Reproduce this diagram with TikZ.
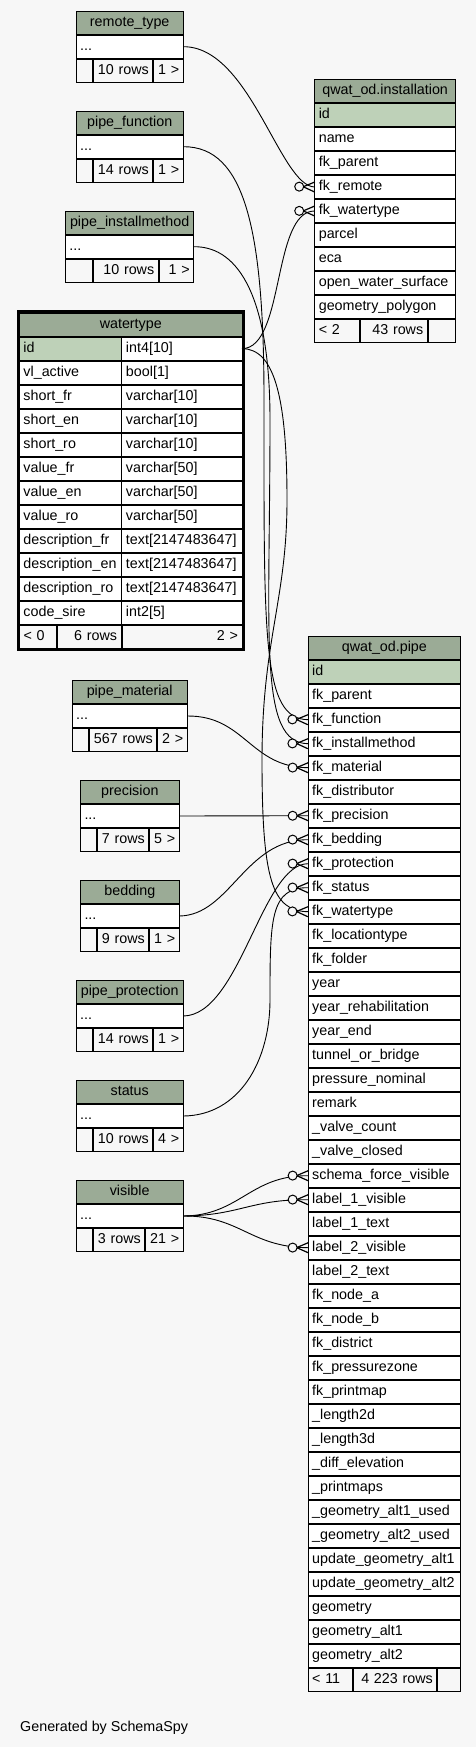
\documentclass[tikz,border=0pt]{standalone}
\usepackage{fontspec}
\setmainfont{Liberation Sans}
\usetikzlibrary{matrix,positioning,decorations.markings}
\definecolor{headgreen}{HTML}{9BAB96}
\definecolor{keygreen}{HTML}{BED1B8}
\definecolor{paper}{HTML}{F7F7F7}
\newcommand{\tabfont}{\fontsize{14.3pt}{17pt}\selectfont}
\tikzset{
  cell/.style={draw, line width=1pt, inner xsep=4pt, inner ysep=0pt,
    text height=10.5pt, text depth=3.5pt, minimum height=23pt, font=\tabfont},
  thead/.style={cell, fill=headgreen, minimum width=#1, align=center},
  tbl/.style={matrix of nodes, inner sep=0pt, outer sep=0pt,
    row sep=0pt, column sep=0pt,
    nodes={cell, fill=white, text width=#1, align=left}},
  fcell/.style={cell, fill=paper, text width=#1, align=right},
  lcell/.style={cell, fill=paper, text width=#1, align=left},
  fk/.style={line width=0.9pt, postaction=decorate,
    decoration={markings, mark=at position 0.9995 with {
      \draw[line width=1.2pt] (-11.5pt,0pt) -- (0pt,5pt)
        (-11.5pt,0pt) -- (0pt,-5pt);
      \draw[line width=1pt, fill=paper] (-15.5pt,0pt) circle[radius=4.5pt];}}}
}

\begin{document}
\begin{tikzpicture}[x=1pt, y=-1pt]
  \fill[paper] (0,0) rectangle (476,1747);

  % small lookup tables
  \foreach \tb/\ttl/\x/\y/\hw/\tw/\fa/\fb/\fc/\nrows/\nref in {
      rt/remote\_type/75.7/10.7/107/99/8.6/51/21.4/10 rows/1 >,
      pf/pipe\_function/75.7/110.7/107/99/8.6/51/21.4/14 rows/1 >,
      pim/pipe\_installmethod/65/210.7/128.3/120.3/19.3/56.4/26.6/10 rows/1 >,
      pm/pipe\_material/71.7/680/115/107/8.6/59/21.4/567 rows/2 >,
      pr/precision/80/780/98.7/90.7/8.3/43/21.4/7 rows/5 >,
      bd/bedding/80/880/98.7/90.7/8.3/43/21.4/9 rows/1 >,
      pp/pipe\_protection/75.7/980/107/99/8.6/51/21.4/14 rows/1 >,
      st/status/75.7/1080/107/99/8.6/51/21.4/10 rows/4 >,
      vi/visible/75.7/1180/107/99/8.6/43/29.4/3 rows/21 >}
  {
    \node[thead=\hw pt, anchor=north west] (\tb-h) at (\x,\y) {\ttl};
    \matrix (\tb) [tbl=\tw pt, below=0pt of \tb-h] {...\\};
    \node[fcell=\fa pt, below right=0pt and 0pt of \tb.south west] (\tb-f1) {};
    \node[fcell=\fb pt, right=0pt of \tb-f1] (\tb-f2) {\nrows};
    \node[fcell=\fc pt, right=0pt of \tb-f2] (\tb-f3) {\nref};
  }

  % watertype
  \node[thead=222.5pt, anchor=north west] (wt-h) at (19,312.7) {watertype};
  \matrix (wt) [tbl=93.5pt, column 2/.style={nodes={text width=112pt}},
    row 1 column 1/.style={nodes={fill=keygreen}}, below=0pt of wt-h]
  {
    id & int4[10]\\
    vl\_active & bool[1]\\
    short\_fr & varchar[10]\\
    short\_en & varchar[10]\\
    short\_ro & varchar[10]\\
    value\_fr & varchar[50]\\
    value\_en & varchar[50]\\
    value\_ro & varchar[50]\\
    description\_fr & text[2147483647]\\
    description\_en & text[2147483647]\\
    description\_ro & text[2147483647]\\
    code\_sire & int2[5]\\
  };
  \node[lcell=28.8pt, below right=0pt and 0pt of wt.south west] (wt-f1) {< 0};
  \node[fcell=55.7pt, right=0pt of wt-f1] (wt-f2) {6 rows};
  \node[fcell=112pt, right=0pt of wt-f2] (wt-f3) {2 >};
  \draw[line width=2.5pt] ([shift={(-1pt,1pt)}]wt-h.north west)
    rectangle ([shift={(1pt,-1pt)}]wt-f3.south east);

  % qwat_od.installation
  \node[thead=140.7pt, anchor=north west] (inst-h) at (314.3,79) {qwat\_od.installation};
  \matrix (inst) [tbl=132.7pt, row 1/.style={nodes={fill=keygreen}},
    below=0pt of inst-h]
  {
    id\\ name\\ fk\_parent\\ fk\_remote\\ fk\_watertype\\ parcel\\ eca\\
    open\_water\_surface\\ geometry\_polygon\\
  };
  \node[lcell=36.7pt, below right=0pt and 0pt of inst.south west] (inst-f1) {< 2};
  \node[fcell=58.7pt, right=0pt of inst-f1] (inst-f2) {43 rows};
  \node[fcell=19.3pt, right=0pt of inst-f2] (inst-f3) {};

  % qwat_od.pipe
  \node[thead=152.3pt, anchor=north west] (pipe-h) at (307.7,635.7) {qwat\_od.pipe};
  \matrix (pipe) [tbl=144.3pt, row 1/.style={nodes={fill=keygreen}},
    below=0pt of pipe-h]
  {
    id\\ fk\_parent\\ fk\_function\\ fk\_installmethod\\ fk\_material\\
    fk\_distributor\\ fk\_precision\\ fk\_bedding\\ fk\_protection\\
    fk\_status\\ fk\_watertype\\ fk\_locationtype\\ fk\_folder\\ year\\
    year\_rehabilitation\\ year\_end\\ tunnel\_or\_bridge\\
    pressure\_nominal\\ remark\\ \_valve\_count\\ \_valve\_closed\\
    schema\_force\_visible\\ label\_1\_visible\\ label\_1\_text\\
    label\_2\_visible\\ label\_2\_text\\ fk\_node\_a\\ fk\_node\_b\\
    fk\_district\\ fk\_pressurezone\\ fk\_printmap\\ \_length2d\\
    \_length3d\\ \_diff\_elevation\\ \_printmaps\\
    \_geometry\_alt1\_used\\ \_geometry\_alt2\_used\\
    update\_geometry\_alt1\\ update\_geometry\_alt2\\ geometry\\
    geometry\_alt1\\ geometry\_alt2\\
  };
  \node[lcell=36.6pt, below right=0pt and 0pt of pipe.south west] (pipe-f1) {< 11};
  \node[fcell=75pt, right=0pt of pipe-f1] (pipe-f2) {4 223 rows};
  \node[fcell=14.7pt, right=0pt of pipe-f2] (pipe-f3) {};

  % foreign keys
  \draw[fk] (rt-1-1.east) .. controls (250,46.2) and (280,186.5) .. (inst-4-1.west);
  \draw[fk] (wt-1-2.east) .. controls (285,348.2) and (272,210.5) .. (inst-5-1.west);
  \draw[fk] (pf-1-1.east) .. controls (245,146.2) and (264,230) .. (264,400)
    .. controls (264,640) and (262,719.2) .. (pipe-3-1.west);
  \draw[fk] (pim-1-1.east) .. controls (240,246.2) and (270,300) .. (270,420)
    .. controls (270,640) and (258,743.2) .. (pipe-4-1.west);
  \draw[fk] (wt-1-2.east) .. controls (275,348.2) and (287,400) .. (287,500)
    .. controls (287,600) and (262,640) .. (262,760)
    .. controls (262,880) and (272,911.2) .. (pipe-11-1.west);
  \draw[fk] (pm-1-1.east) .. controls (245,715.5) and (250,767.2) .. (pipe-5-1.west);
  \draw[fk] (pr-1-1.east) -- (pipe-7-1.west);
  \draw[fk] (bd-1-1.east) .. controls (230,915.5) and (245,839.2) .. (pipe-8-1.west);
  \draw[fk] (pp-1-1.east) .. controls (240,1015.5) and (262,863.2) .. (pipe-9-1.west);
  \draw[fk] (st-1-1.east) .. controls (240,1115.5) and (270,1060) .. (270,1000)
    .. controls (270,920) and (270,887.2) .. (pipe-10-1.west);
  \draw[fk] (vi-1-1.east) .. controls (240,1215.5) and (250,1175.2) .. (pipe-22-1.west);
  \draw[fk] (vi-1-1.east) .. controls (240,1215.5) and (250,1199.2) .. (pipe-23-1.west);
  \draw[fk] (vi-1-1.east) .. controls (240,1215.5) and (250,1247.2) .. (pipe-25-1.west);

  \node[anchor=base west, font=\tabfont] (gen) at (16.7,1731.7) {Generated by SchemaSpy};
\end{tikzpicture}
\end{document}
